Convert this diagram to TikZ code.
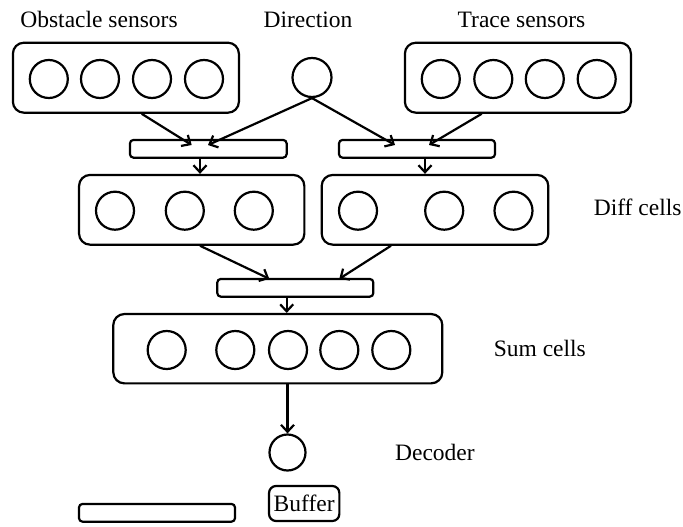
\documentclass[tikz,border=0pt]{standalone}
\usepackage{fontspec}
\setmainfont{Liberation Serif}
\usetikzlibrary{arrows.meta}
\begin{document}
\begin{tikzpicture}[x=1pt,y=-1pt,
  line width=2.2pt,
  every node/.style={font=\fontsize{23.5}{28}\selectfont},
  cellbox/.style={draw, rounded corners=11pt, inner sep=0pt},
  bar/.style={draw, rounded corners=3.5pt, inner sep=0pt, minimum width=156pt, minimum height=17.7pt},
  neuron/.style={draw, circle, inner sep=0pt, minimum size=38pt},
  lbl/.style={inner sep=0pt},
  link/.style={-{Straight Barb[length=7pt,width=13pt,line width=2.2pt]}}
]
\useasboundingbox (0,0) rectangle (683,527);

% input groups
\node[cellbox, minimum width=226pt, minimum height=70pt] (obs) at (125.9,77.7) {};
\foreach \i/\x in {1/48.8,2/100,3/152,4/204}
  \node[neuron] (obs\i) at (\x,79) {};
\node[neuron, minimum size=39pt] (dir) at (312,77.5) {};
\node[cellbox, minimum width=226pt, minimum height=70pt] (trc) at (517.9,77.7) {};
\foreach \i/\x in {1/440.8,2/493.3,3/544.8,4/596.7}
  \node[neuron] (trc\i) at (\x,79) {};

% labels of the inputs
\node[lbl, anchor=base] (lobs) at (99,28) {Obstacle sensors};
\node[lbl, anchor=base] (ldir) at (308,28) {Direction};
\node[lbl, anchor=base] (ltrc) at (521.5,28) {Trace sensors};

% first buffers
\node[bar, minimum width=156.7pt] (lbar) at (208.3,148.8) {};
\node[bar] (rbar) at (417,148.8) {};

% difference cells
\node[cellbox, minimum width=225.3pt, minimum height=69.7pt] (dl) at (191.7,209.8) {};
\foreach \i/\x in {1/115,2/184.8,3/253.8}
  \node[neuron] (dl\i) at (\x,210.7) {};
\node[cellbox, minimum width=226.6pt, minimum height=69.7pt] (dr) at (435,209.8) {};
\foreach \i/\x in {1/358,2/444.2,3/513.5}
  \node[neuron] (dr\i) at (\x,210.7) {};
\node[lbl, anchor=base west] (ldiff) at (592.7,215) {Diff cells};

% second buffer and sum cells
\node[bar] (bbar) at (295.3,287.8) {};
\node[cellbox, minimum width=329pt, minimum height=69.3pt] (sum) at (277.8,348.7) {};
\foreach \i/\x in {1/166.7,2/235.3,3/288,4/339.3,5/391.3}
  \node[neuron] (sum\i) at (\x,350) {};
\node[lbl, anchor=base west] (lsum) at (492.7,356.7) {Sum cells};

% decoder
\node[neuron, minimum size=36pt] (dec) at (287.5,452.5) {};
\node[lbl, anchor=base west] (ldec) at (394,460) {Decoder};

% legend
\node[bar] (lgbar) at (157,512.8) {};
\node[draw, rounded corners=7pt, inner sep=0pt, minimum width=70.3pt, minimum height=35pt] (buf) at (304.2,503.5) {Buffer};

% connections
\draw[link] ([xshift=15.8pt]obs.south) -- ([xshift=-16.6pt,yshift=3.8pt]lbar.center);
\draw[link] (dir.south) -- ([xshift=-0.3pt,yshift=3.8pt]lbar.center);
\draw[link] (dir.south) -- ([xshift=-22pt,yshift=3.8pt]rbar.center);
\draw[link] ([xshift=-36.2pt]trc.south) -- ([xshift=12pt,yshift=3.8pt]rbar.center);
\draw[link] ([xshift=-8.3pt]lbar.south) -- ([xshift=8.3pt]dl.north);
\draw[link] ([xshift=8pt]rbar.south) -- ([xshift=-10pt]dr.north);
\draw[link] ([xshift=8.3pt]dl.south) -- ([xshift=-26pt,yshift=9pt]bbar.center);
\draw[link] ([xshift=-44pt]dr.south) -- ([xshift=44pt,yshift=9pt]bbar.center);
\draw[link] ([xshift=-8.6pt]bbar.south) -- ([xshift=8.9pt]sum.north);
\draw[link] (sum.south -| dec.north) -- (dec.north);
\end{tikzpicture}
\end{document}
